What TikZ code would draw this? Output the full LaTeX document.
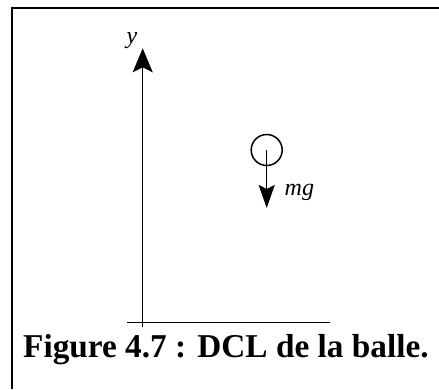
\documentclass[tikz,border=0pt]{standalone}
\usepackage{fontspec}
\setmainfont{Liberation Serif}
\usetikzlibrary{arrows.meta}
\tikzset{
  frameline/.style={line width=1.6pt},
  axisline/.style={line width=1.5pt},
  bigarrow/.style={-{Stealth[length=24pt,width=20pt,inset=5pt]}},
  forcearrow/.style={-{Stealth[length=23pt,width=16pt,inset=4pt]}},
  lbl/.style={font=\fontsize{24}{28}\selectfont\itshape, inner sep=0pt, anchor=base west},
}
\begin{document}
\begin{tikzpicture}[x=1pt,y=1pt]
\useasboundingbox (0,0) rectangle (439,389);
% frame (top and left)
\coordinate (fbl) at (11.7,0);
\coordinate (ftl) at (11.7,380.7);
\coordinate (ftr) at (439,380.7);
\draw[frameline] (fbl) -- (ftl) -- (ftr);
% axes
\coordinate (yb) at (142.7,62);
\coordinate (yt) at (142.7,340.7);
\coordinate (xl) at (127,66.3);
\coordinate (xr) at (330,66.3);
\draw[axisline,bigarrow] (yb) -- (yt);
\draw[axisline] (xl) -- (xr);
\node[lbl] (ylab) at (126.5,345) {y};
% ball and weight
\node[circle,draw,line width=1.5pt,minimum size=31pt,inner sep=0pt] (ball) at (266.7,239) {};
\coordinate (ft) at (266.7,181);
\draw[axisline,forcearrow] (ball.center) -- (ft);
\node[lbl] (mg) at (284.5,194) {mg};
% caption
\node[font=\fontsize{33.3}{38}\selectfont\bfseries, inner sep=0pt, anchor=base west] (cap) at (23,31.3) {Figure 4.7 : DCL de la balle.};
\end{tikzpicture}
\end{document}
